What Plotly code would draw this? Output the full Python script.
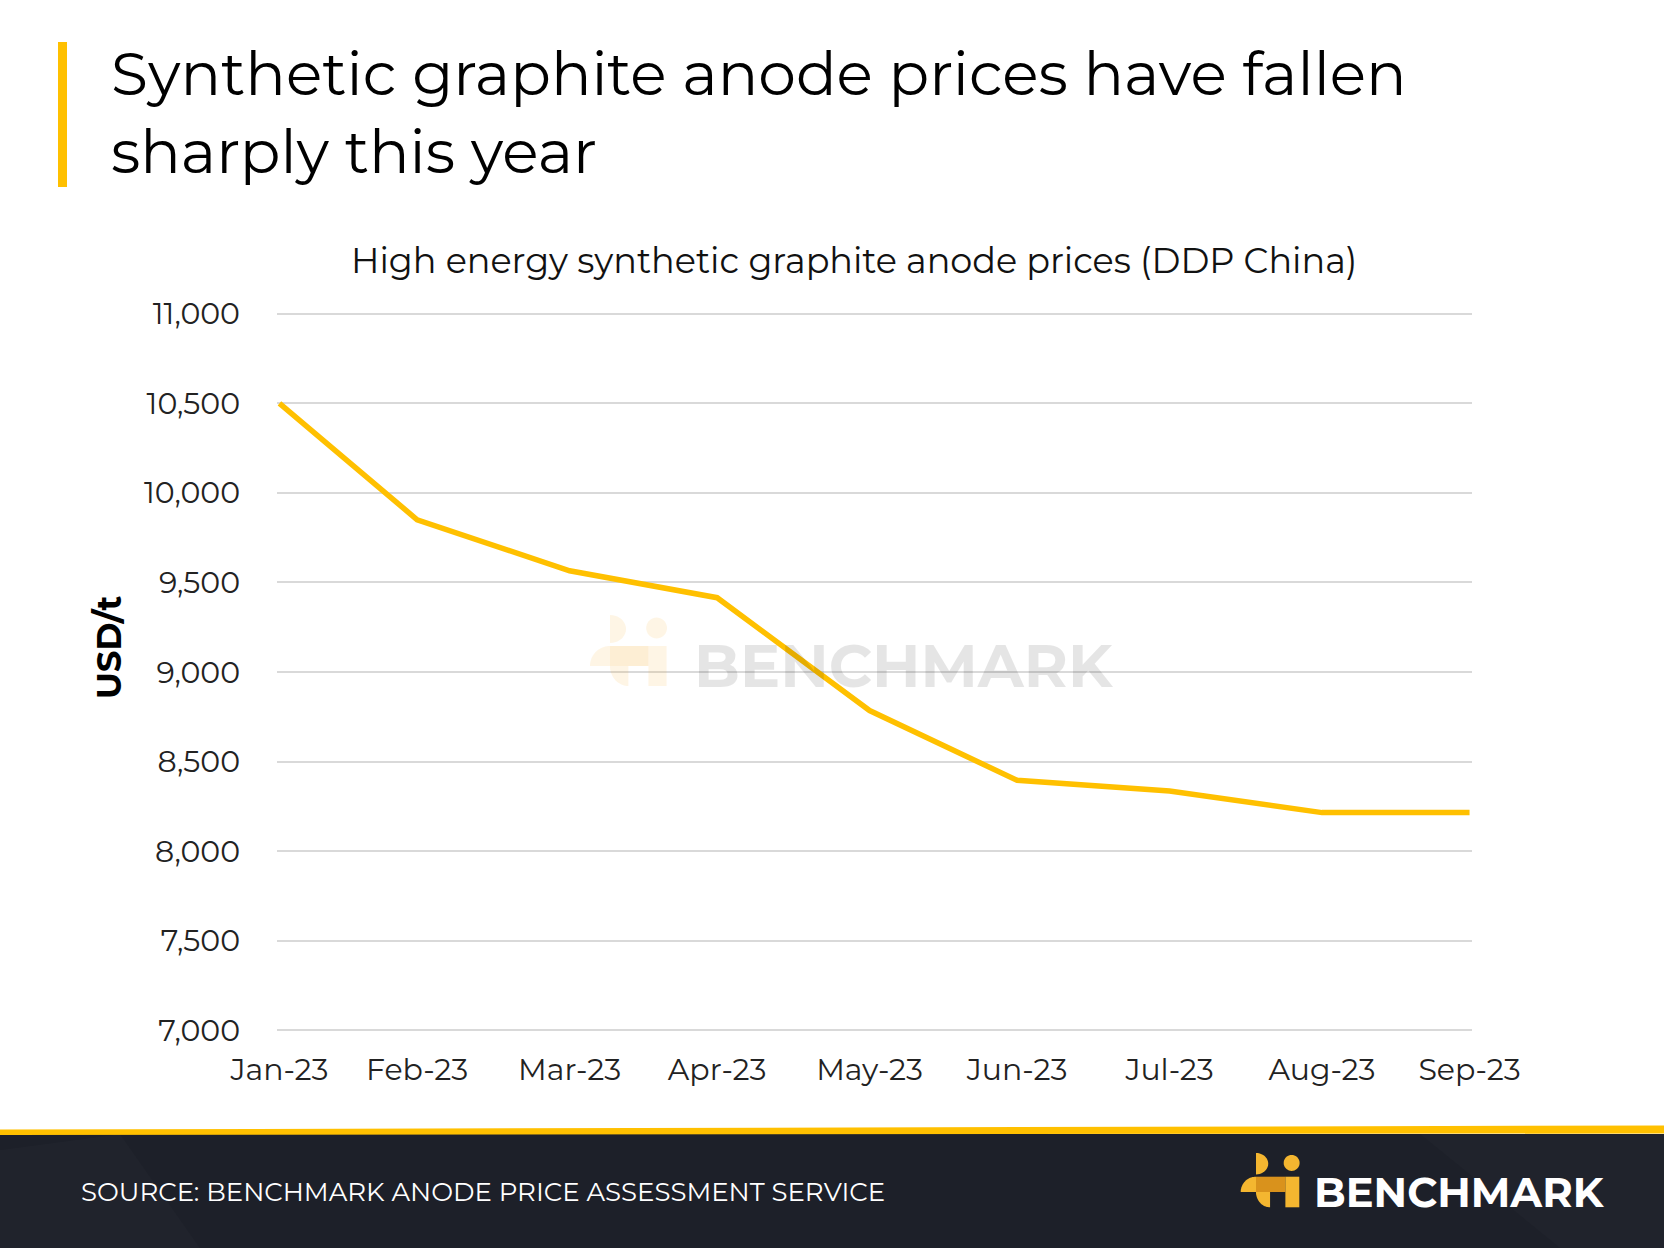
import math
import plotly.graph_objects as go

# --------------------------------------------------------------------------------
# Data
months = ['2023-01-31', '2023-02-28', '2023-03-31', '2023-04-30', '2023-05-31',
          '2023-06-30', '2023-07-31', '2023-08-31', '2023-09-30']
month_labels = ['Jan-23', 'Feb-23', 'Mar-23', 'Apr-23', 'May-23',
                'Jun-23', 'Jul-23', 'Aug-23', 'Sep-23']
prices = [10500, 9850, 9565, 9415, 8785, 8395, 8335, 8215, 8215]
y_ticks = [7000, 7500, 8000, 8500, 9000, 9500, 10000, 10500, 11000]

title_text = 'Synthetic graphite anode prices have fallen<br>sharply this year'
subtitle_text = 'High energy synthetic graphite anode prices (DDP China)'
source_text = 'SOURCE: BENCHMARK ANODE PRICE ASSESSMENT SERVICE'

# --------------------------------------------------------------------------------
# Page geometry (pixels) -> paper coords
W, H = 1664, 1248
ML, MR, MT, MB = 277, 192, 312, 216
PW, PH = W - ML - MR, H - MT - MB
FONT = 'Montserrat, Inter, sans-serif'
GOLD = '#FFC000'


def px(x, y):
    return (x - ML) / PW, 1 - (y - MT) / PH


def path(points):
    pts = [px(x, y) for x, y in points]
    return 'M' + 'L'.join(f'{a:.5f},{b:.5f}' for a, b in pts) + 'Z'


def arc(cx, cy, rx, ry, a0, a1, n=20):
    return [(cx + rx * math.cos(math.radians(a0 + (a1 - a0) * i / n)),
             cy + ry * math.sin(math.radians(a0 + (a1 - a0) * i / n))) for i in range(n + 1)]


def logo(ox, oy, r, light, dark):
    # pieces in units of r, y pointing down
    pieces = [
        ([(0, 0)] + arc(0, 0, 1, 1, 180, 270), light),
        ([(0, 0), (0.92, 0)] + arc(0.92, 0, 0.92, 1, 90, 180), light),
        ([(0, -1), (1.92, -1), (1.92, 0), (0, 0)], dark),
        ([(1.92, -1), (2.83, -1), (2.83, 1), (1.92, 1)], light),
        ([(0, -2.55)] + arc(0, -1.85, 0.8, 0.7, -90, 90), light),
        (arc(2.33, -1.9, 0.52, 0.52, 0, 360, 36), light),
    ]
    out = []
    for pts, col in pieces:
        out.append(dict(type='path', xref='paper', yref='paper', layer='above',
                        path=path([(ox + r * a, oy + r * b) for a, b in pts]),
                        fillcolor=col, line=dict(width=0)))
    return out


def note(text, x, y, size, color, xanchor='left', **kw):
    return dict(text=text, xref='paper', yref='paper', x=px(x, 0)[0], y=px(0, y)[1],
                xanchor=xanchor, yanchor='middle', showarrow=False,
                font=dict(family=FONT, size=size, color=color), **kw)


# --------------------------------------------------------------------------------
# Trace
trace = go.Scatter(
    x=months, y=prices, mode='lines',
    line=dict(color=GOLD, width=5.5),
    hoverinfo='skip', showlegend=False,
)

shapes = []
# title accent bar
shapes.append(dict(type='rect', xref='paper', yref='paper',
                   x0=px(58, 0)[0], x1=px(67, 0)[0], y0=px(0, 42)[1], y1=px(0, 187)[1],
                   fillcolor=GOLD, line=dict(width=0)))
# footer band and stripe
shapes.append(dict(type='rect', xref='paper', yref='paper', layer='below',
                   x0=px(0, 0)[0], x1=px(W, 0)[0], y0=px(0, 1134)[1], y1=px(0, H)[1],
                   fillcolor='#1d2029', line=dict(width=0)))
shapes.append(dict(type='path', xref='paper', yref='paper', layer='below',
                   path=path([(0, 1129.5), (W, 1125.5), (W, 1133.5), (0, 1135)]),
                   fillcolor=GOLD, line=dict(width=0)))
# subtle footer texture
shapes.append(dict(type='path', xref='paper', yref='paper', layer='below',
                   path=path([(0, 1150), (120, 1134), (200, 1248), (0, 1248)]),
                   fillcolor='rgba(255,255,255,0.015)', line=dict(width=0)))
shapes.append(dict(type='path', xref='paper', yref='paper', layer='below',
                   path=path([(1420, 1134), (1664, 1134), (1664, 1248), (1560, 1248)]),
                   fillcolor='rgba(255,255,255,0.015)', line=dict(width=0)))

# logos
shapes += logo(610, 666, 20, 'rgba(245,170,40,0.12)', 'rgba(245,170,40,0.2)')
shapes += logo(1256, 1192, 15.3, '#F4B630', '#D9921C')

annotations = [
    note(title_text, 109, 112, 60, '#000000', align='left'),
    note(subtitle_text, 854, 260, 35, '#111111', xanchor='center'),
    note('<b>USD/t</b>', 109, 648, 34, '#000000', xanchor='center', textangle=-90),
    note('<b>BENCHMARK</b>', 692, 665, 60, 'rgba(0,0,0,0.1)'),
    note(source_text, 79, 1192, 26, '#ffffff'),
    note('<b>BENCHMARK</b>', 1312, 1192, 41.5, '#ffffff'),
]

layout = go.Layout(
    width=W, height=H,
    margin=dict(l=ML, r=MR, t=MT, b=MB, pad=0),
    paper_bgcolor='white', plot_bgcolor='white',
    font=dict(family=FONT, color='#222222'),
    xaxis=dict(type='date', range=['2023-01-30 12:00', '2023-09-30 12:00'],
               tickvals=months, ticktext=month_labels,
               showgrid=False, zeroline=False, showline=False, ticks='',
               tickfont=dict(size=30, color='#222222'), ticklabelstandoff=17),
    yaxis=dict(range=[6990, 11010], tickvals=y_ticks, tickformat=',d',
               showgrid=True, gridcolor='#d9d9d9', gridwidth=1.5, zeroline=False, showline=False,
               ticks='', tickfont=dict(size=30, color='#222222'), ticklabelstandoff=36),
    shapes=shapes,
    annotations=annotations,
    showlegend=False,
)

fig = go.Figure(data=[trace], layout=layout)
fig.write_html('out.html', config=dict(displayModeBar=False),
               post_script="document.body.style.margin='0';document.body.style.overflow='hidden';")
